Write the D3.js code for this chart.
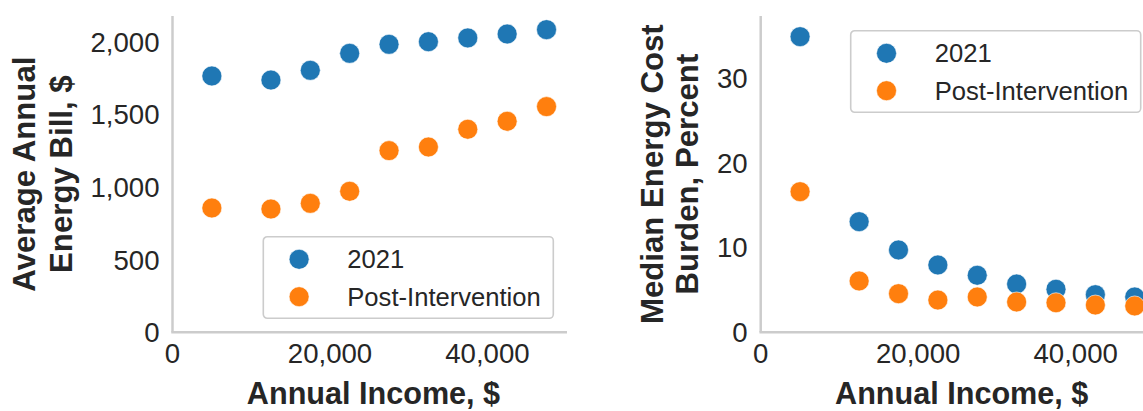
<!DOCTYPE html>
<html>
<head>
<meta charset="utf-8">
<script src="https://cdn.jsdelivr.net/npm/d3@7"></script>
<style>
  html, body { margin: 0; padding: 0; background: #fff; }
  svg { display: block; font-family: "Liberation Sans", Arial, sans-serif; }
</style>
</head>
<body>
<svg id="chart" width="1143" height="411"></svg>
<script>
// ---- data ----
const incomes = [5000, 12500, 17500, 22500, 27500, 32500, 37500, 42500, 47500];
const bill2021 = [1765, 1737, 1804, 1921, 1983, 2001, 2027, 2054, 2084];
const billPost = [856, 849, 888, 971, 1251, 1276, 1398, 1453, 1554];
const burden2021 = [34.9, 13.06, 9.72, 7.95, 6.73, 5.70, 5.08, 4.44, 4.17];
const burdenPost = [16.6, 6.06, 4.56, 3.81, 4.17, 3.58, 3.49, 3.22, 3.11];
const seriesNames = ["2021", "Post-Intervention"];
const xTicks = [0, 20000, 40000];
const billTicks = [0, 500, 1000, 1500, 2000];
const burdenTicks = [0, 10, 20, 30];

const colors = ["#1f77b4", "#ff7f0e"];
const textColor = "#262626";
const spineColor = "#cccccc";

const svg = d3.select("#chart");
const fmt = d3.format(",");

function panel(opts) {
  const x = d3.scaleLinear().domain([0, 50100]).range([opts.left, opts.left + 394.5]);
  const y = d3.scaleLinear().domain([0, opts.ymax]).range([332.3, 16]);
  const g = svg.append("g");

  // spines
  g.append("line").attr("x1", x(0)).attr("x2", x(0)).attr("y1", y(opts.ymax)).attr("y2", y(0))
    .attr("stroke", spineColor).attr("stroke-width", 2.5);
  g.append("line").attr("x1", x(0) - 1.25).attr("x2", x(50100)).attr("y1", y(0)).attr("y2", y(0))
    .attr("stroke", spineColor).attr("stroke-width", 2.5);

  // y ticks
  g.selectAll(".yt").data(opts.yticks).enter().append("text")
    .attr("x", x(0) - 13).attr("y", d => y(d) + 9.9)
    .attr("text-anchor", "end").attr("font-size", 27.6).attr("fill", textColor)
    .text(d => fmt(d));
  // x ticks
  g.selectAll(".xt").data(xTicks).enter().append("text")
    .attr("x", d => x(d)).attr("y", 363)
    .attr("text-anchor", "middle").attr("font-size", 27.6).attr("fill", textColor)
    .text(d => fmt(d));

  // x label
  g.append("text").attr("x", x(0) + 201).attr("y", 404)
    .attr("text-anchor", "middle").attr("font-size", 30.6).attr("font-weight", "bold")
    .attr("fill", textColor).text("Annual Income, $");

  // y label (two lines)
  const cy = (y(0) + y(opts.ymax)) / 2;
  opts.ylabel.forEach((line, i) => {
    const bx = opts.ylabelX[i];
    g.append("text").attr("transform", `translate(${bx},${cy}) rotate(-90)`)
      .attr("text-anchor", "middle").attr("font-size", 31.2).attr("font-weight", "bold")
      .attr("fill", textColor).text(line);
  });

  // points
  opts.series.forEach((vals, si) => {
    g.append("g").selectAll("circle").data(vals).enter().append("circle")
      .attr("cx", (d, i) => x(incomes[i])).attr("cy", d => y(d)).attr("r", 10)
      .attr("fill", colors[si]).attr("stroke", "#fff").attr("stroke-width", 0.6);
  });

  // legend
  const lg = g.append("g").attr("transform", `translate(${opts.legend[0]},${opts.legend[1]})`);
  lg.append("rect").attr("x", 0).attr("y", 0).attr("width", 290).attr("height", 81.6)
    .attr("rx", 4).attr("ry", 4).attr("fill", "rgba(255,255,255,0.8)")
    .attr("stroke", spineColor).attr("stroke-width", 1.6);
  seriesNames.forEach((name, i) => {
    const my = 22.6 + i * 37.4;
    lg.append("circle").attr("cx", 35.8).attr("cy", my).attr("r", 10)
      .attr("fill", colors[i]).attr("stroke", "#fff").attr("stroke-width", 0.6);
    lg.append("text").attr("x", 84).attr("y", my + 9.2).attr("font-size", 25.6)
      .attr("fill", textColor).text(name);
  });
}

panel({
  left: 172.5, ymax: 2178, yticks: billTicks,
  ylabel: ["Average Annual", "Energy Bill, $"], ylabelX: [35, 71.7],
  series: [bill2021, billPost], legend: [263.3, 236.7]
});
panel({
  left: 760.7, ymax: 37.34, yticks: burdenTicks,
  ylabel: ["Median Energy Cost", "Burden, Percent"], ylabelX: [663.3, 698.3],
  series: [burden2021, burdenPost], legend: [850.7, 30.7]
});
</script>
</body>
</html>
